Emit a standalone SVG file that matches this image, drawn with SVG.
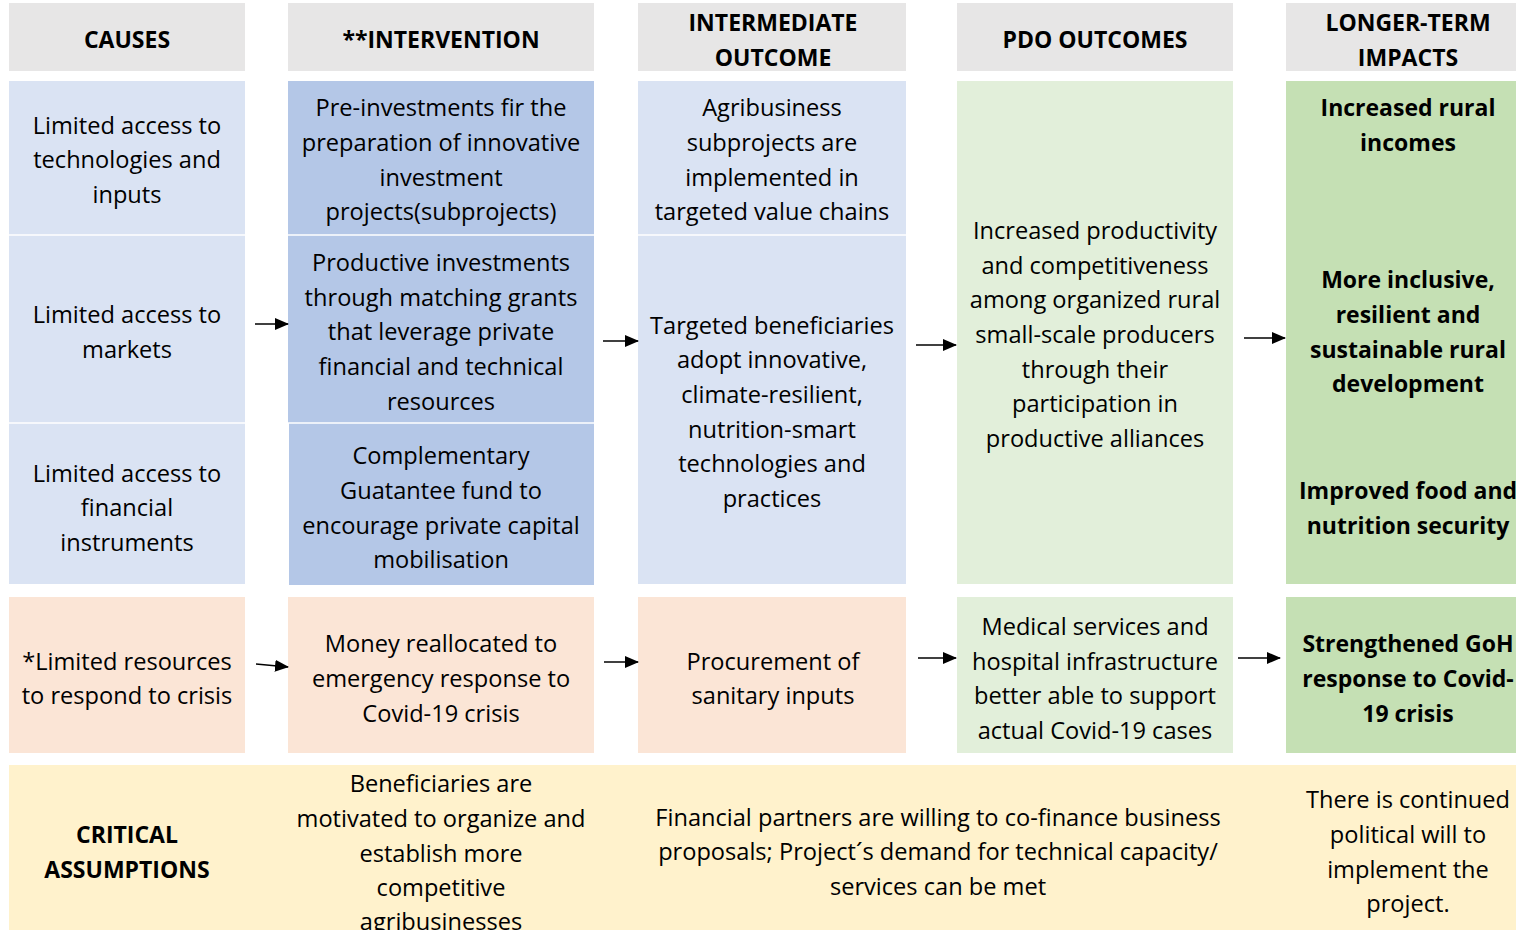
<svg xmlns="http://www.w3.org/2000/svg" width="1516" height="930" viewBox="0 0 1516 930">
  <style>
    text { font-family: "Open Sans", Lato, sans-serif; font-size: 23.6px; fill: #000; text-anchor: middle; dominant-baseline: central; }
    .b { font-weight: bold; font-size: 23px; }
    .hdr { fill: #e7e6e6; }
    .lb { fill: #dae3f3; }
    .db { fill: #b4c7e7; }
    .lg { fill: #e2efda; }
    .dg { fill: #c5e0b4; }
    .pe { fill: #fbe5d6; }
    .ye { fill: #fff2cc; }
    .sep { stroke: #ffffff; stroke-width: 1.5; }
    .arr { stroke: #000; stroke-width: 1.5; fill: none; marker-end: url(#ah); }
  </style>
  <defs>
    <marker id="ah" markerWidth="14" markerHeight="12" refX="13" refY="6" orient="auto" markerUnits="userSpaceOnUse" viewBox="0 0 14 12">
      <path d="M0,0 L14,6 L0,12 Z" fill="#000"/>
    </marker>
  </defs>
  <rect width="1516" height="930" fill="#ffffff"/>

  <!-- column headers -->
  <g id="hdr-causes"><rect class="hdr" x="9" y="3" width="236" height="68"/><text class="b" x="127" y="39">CAUSES</text></g>
  <g id="hdr-intervention"><rect class="hdr" x="288" y="3" width="306" height="68"/><text class="b" x="441" y="39">**INTERVENTION</text></g>
  <g id="hdr-intermediate"><rect class="hdr" x="638" y="3" width="268" height="68"/><text class="b" x="773" y="22">INTERMEDIATE</text><text class="b" x="773" y="57">OUTCOME</text></g>
  <g id="hdr-pdo"><rect class="hdr" x="957" y="3" width="276" height="68"/><text class="b" x="1095" y="39">PDO OUTCOMES</text></g>
  <g id="hdr-impacts"><rect class="hdr" x="1286" y="3" width="230" height="68"/><text class="b" x="1408" y="22">LONGER-TERM</text><text class="b" x="1408" y="57">IMPACTS</text></g>

  <!-- causes -->
  <g id="cause-technologies"><rect class="lb" x="9" y="81" width="236" height="154"/>
    <text x="127" y="125">Limited access to</text><text x="127" y="159">technologies and</text><text x="127" y="194">inputs</text></g>
  <g id="cause-markets"><rect class="lb" x="9" y="235" width="236" height="188"/>
    <text x="127" y="314">Limited access to</text><text x="127" y="349">markets</text></g>
  <g id="cause-financial"><rect class="lb" x="9" y="423" width="236" height="161"/>
    <text x="127" y="473">Limited access to</text><text x="127" y="507">financial</text><text x="127" y="542">instruments</text></g>
  <line class="sep" x1="9" y1="235" x2="245" y2="235"/>
  <line class="sep" x1="9" y1="423" x2="245" y2="423"/>

  <!-- interventions -->
  <g id="int-preinvest"><rect class="db" x="288" y="81" width="306" height="154"/>
    <text x="441" y="107">Pre-investments fir the</text><text x="441" y="142">preparation of innovative</text><text x="441" y="177">investment</text><text x="441" y="211">projects(subprojects)</text></g>
  <g id="int-productive"><rect class="db" x="288" y="235" width="306" height="188"/>
    <text x="441" y="262">Productive investments</text><text x="441" y="297">through matching grants</text><text x="441" y="331">that leverage private</text><text x="441" y="366">financial and technical</text><text x="441" y="401">resources</text></g>
  <g id="int-guarantee"><rect class="db" x="289" y="423" width="305" height="162"/>
    <text x="441" y="455">Complementary</text><text x="441" y="490">Guatantee fund to</text><text x="441" y="525">encourage private capital</text><text x="441" y="559">mobilisation</text></g>
  <line class="sep" x1="288" y1="235" x2="594" y2="235"/>
  <line class="sep" x1="288" y1="423" x2="594" y2="423"/>

  <!-- intermediate outcomes -->
  <g id="io-subprojects"><rect class="lb" x="638" y="81" width="268" height="154"/>
    <text x="772" y="107">Agribusiness</text><text x="772" y="142">subprojects are</text><text x="772" y="177">implemented in</text><text x="772" y="211">targeted value chains</text></g>
  <g id="io-adopt"><rect class="lb" x="638" y="235" width="268" height="349"/>
    <text x="772" y="325">Targeted beneficiaries</text><text x="772" y="359">adopt innovative,</text><text x="772" y="394">climate-resilient,</text><text x="772" y="429">nutrition-smart</text><text x="772" y="463">technologies and</text><text x="772" y="498">practices</text></g>
  <line class="sep" x1="638" y1="235" x2="906" y2="235"/>

  <!-- PDO outcome -->
  <g id="pdo-productivity"><rect class="lg" x="957" y="81" width="276" height="503"/>
    <text x="1095" y="230">Increased productivity</text><text x="1095" y="265">and competitiveness</text><text x="1095" y="299">among organized rural</text><text x="1095" y="334">small-scale producers</text><text x="1095" y="369">through their</text><text x="1095" y="403">participation in</text><text x="1095" y="438">productive alliances</text></g>

  <!-- longer-term impacts -->
  <g id="impacts-main"><rect class="dg" x="1286" y="81" width="230" height="503"/>
    <text class="b" x="1408" y="107">Increased rural</text><text class="b" x="1408" y="142">incomes</text>
    <text class="b" x="1408" y="279">More inclusive,</text><text class="b" x="1408" y="314">resilient and</text><text class="b" x="1408" y="349">sustainable rural</text><text class="b" x="1408" y="383">development</text>
    <text class="b" x="1408" y="490">Improved food and</text><text class="b" x="1408" y="525">nutrition security</text></g>

  <!-- Covid-19 row -->
  <g id="covid-cause"><rect class="pe" x="9" y="597" width="236" height="156"/>
    <text x="127" y="661">*Limited resources</text><text x="127" y="695">to respond to crisis</text></g>
  <g id="covid-intervention"><rect class="pe" x="288" y="597" width="306" height="156"/>
    <text x="441" y="643">Money reallocated to</text><text x="441" y="678">emergency response to</text><text x="441" y="713">Covid-19 crisis</text></g>
  <g id="covid-intermediate"><rect class="pe" x="638" y="597" width="268" height="156"/>
    <text x="773" y="661">Procurement of</text><text x="773" y="695">sanitary inputs</text></g>
  <g id="covid-pdo"><rect class="lg" x="957" y="597" width="276" height="156"/>
    <text x="1095" y="626">Medical services and</text><text x="1095" y="661">hospital infrastructure</text><text x="1095" y="695">better able to support</text><text x="1095" y="730">actual Covid-19 cases</text></g>
  <g id="covid-impact"><rect class="dg" x="1286" y="597" width="230" height="156"/>
    <text class="b" x="1408" y="643">Strengthened GoH</text><text class="b" x="1408" y="678">response to Covid-</text><text class="b" x="1408" y="713">19 crisis</text></g>

  <!-- critical assumptions band -->
  <g id="assumptions">
    <rect class="ye" x="9" y="765" width="1507" height="165"/>
    <text class="b" x="127" y="834">CRITICAL</text><text class="b" x="127" y="869">ASSUMPTIONS</text>
    <text x="441" y="783">Beneficiaries are</text><text x="441" y="818">motivated to organize and</text><text x="441" y="853">establish more</text><text x="441" y="887">competitive</text><text x="441" y="921">agribusinesses</text>
    <text x="938" y="817">Financial partners are willing to co-finance business</text><text x="938" y="851">proposals; Project´s demand for technical capacity/</text><text x="938" y="886">services can be met</text>
    <text x="1408" y="799">There is continued</text><text x="1408" y="834">political will to</text><text x="1408" y="869">implement the</text><text x="1408" y="903">project.</text>
  </g>

  <!-- connectors -->
  <g id="connectors">
    <line class="arr" x1="255" y1="324" x2="288" y2="324"/>
    <line class="arr" x1="603" y1="341" x2="638" y2="341"/>
    <line class="arr" x1="916" y1="345" x2="956" y2="345"/>
    <line class="arr" x1="1244" y1="338" x2="1285" y2="338"/>
    <line class="arr" x1="256" y1="664" x2="288" y2="667"/>
    <line class="arr" x1="604" y1="662" x2="638" y2="662"/>
    <line class="arr" x1="918" y1="658" x2="956" y2="658"/>
    <line class="arr" x1="1238" y1="658" x2="1280" y2="658"/>
  </g>
</svg>
